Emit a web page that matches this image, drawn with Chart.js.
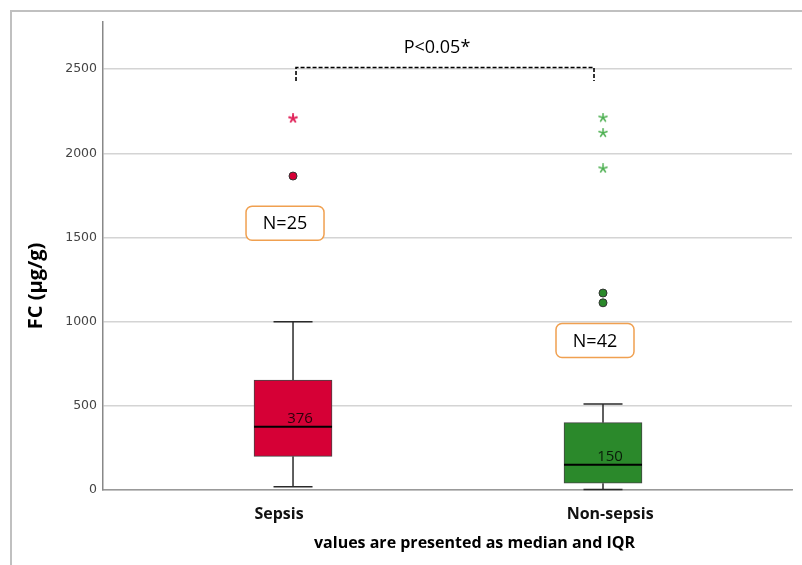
<!DOCTYPE html>
<html><head><meta charset="utf-8">
<script src="https://cdn.jsdelivr.net/npm/chart.js@4"></script>
<style>html,body{margin:0;padding:0;background:#fff;} canvas{display:block;}</style>
</head><body>
<canvas id="c" width="802" height="565"></canvas>
<script>
// ---- data ----
const categories = ['Sepsis', 'Non-sepsis'];
const q1 = [200, 40];
const medians = [376, 150];
const q3 = [653, 400];
const whiskerLow = [20, 3];
const whiskerHigh = [999, 511];
const outlierCircles = [[1865], [1170, 1112]];
const outlierStars = [[2207], [2212, 2122, 1910]];
const sampleSizes = [25, 42];
const yTicks = [0, 500, 1000, 1500, 2000, 2500];
const yAxisTitle = 'FC (μg/g)';
const xAxisTitle = 'values are presented as median and IQR';
const pValueText = 'P<0.05*';
const nBoxValues = [1585, 888];      // vertical anchor of the "N=" labels
const bracketValue = 2510;
const bracketEndValue = 2430;

// ---- style ----
const boxColors = ['#d60036', '#2b892b'];
const starColors = ['#e0245a', '#4caf50'];
const xPos = categories.map((c, i) => i + 1);

function makeStar(color, size, lw) {
  const cv = document.createElement('canvas');
  cv.width = cv.height = size;
  const g = cv.getContext('2d');
  g.strokeStyle = color; g.lineWidth = lw; g.lineCap = 'round';
  const c = size / 2, r = size / 2 - lw / 2;
  for (let k = 0; k < 5; k++) {
    const a = -Math.PI / 2 + k * 2 * Math.PI / 5;
    g.beginPath(); g.moveTo(c, c); g.lineTo(c + r * Math.cos(a), c + r * Math.sin(a)); g.stroke();
  }
  return cv;
}
const starImgs = [makeStar(starColors[0], 10, 2), makeStar(starColors[1], 10, 1.5)];

const datasets = [{
  type: 'bar',
  data: categories.map((c, i) => ({ x: xPos[i], y: [q1[i], q3[i]] })),
  backgroundColor: boxColors,
  borderColor: '#444',
  borderWidth: 1,
  borderSkipped: false,
  barThickness: 78,
  order: 2
}];
categories.forEach((c, i) => {
  datasets.push({
    type: 'scatter',
    data: outlierCircles[i].map(v => ({ x: xPos[i], y: v })),
    pointStyle: 'circle', pointRadius: 4, pointBackgroundColor: boxColors[i],
    pointBorderColor: '#333', pointBorderWidth: 1, order: 1
  });
  datasets.push({
    type: 'scatter',
    data: outlierStars[i].map(v => ({ x: xPos[i], y: v })),
    pointStyle: starImgs[i], pointRadius: 5, order: 1
  });
});

function line(ctx, x1, y1, x2, y2) { ctx.beginPath(); ctx.moveTo(x1, y1); ctx.lineTo(x2, y2); ctx.stroke(); }
function roundRect(ctx, x, y, w, h, r) {
  ctx.beginPath();
  ctx.moveTo(x + r, y); ctx.lineTo(x + w - r, y); ctx.arcTo(x + w, y, x + w, y + r, r);
  ctx.lineTo(x + w, y + h - r); ctx.arcTo(x + w, y + h, x + w - r, y + h, r);
  ctx.lineTo(x + r, y + h); ctx.arcTo(x, y + h, x, y + h - r, r);
  ctx.lineTo(x, y + r); ctx.arcTo(x, y, x + r, y, r); ctx.closePath();
}

const boxPlugin = {
  id: 'boxplot',
  beforeDatasetsDraw(chart) {
    const { ctx, scales: { x, y } } = chart;
    ctx.save();
    ctx.strokeStyle = '#2a2a2a'; ctx.lineWidth = 1.5;
    categories.forEach((c, i) => {
      const cx = x.getPixelForValue(xPos[i]);
      const hi = y.getPixelForValue(whiskerHigh[i]), lo = y.getPixelForValue(whiskerLow[i]);
      line(ctx, cx, y.getPixelForValue(q3[i]), cx, hi);
      line(ctx, cx, y.getPixelForValue(q1[i]), cx, lo);
      line(ctx, cx - 19.5, hi, cx + 19.5, hi);
      line(ctx, cx - 19.5, lo, cx + 19.5, lo);
    });
    ctx.restore();
  },
  afterDatasetsDraw(chart) {
    const { ctx, scales: { x, y } } = chart;
    ctx.save();
    categories.forEach((c, i) => {
      const cx = x.getPixelForValue(xPos[i]);
      const my = y.getPixelForValue(medians[i]);
      ctx.strokeStyle = '#000'; ctx.lineWidth = 2;
      line(ctx, cx - 39, my, cx + 39, my);
      ctx.fillStyle = 'rgba(0,0,0,0.8)';
      ctx.font = '15px "Open Sans"';
      ctx.textAlign = 'center'; ctx.textBaseline = 'alphabetic';
      ctx.fillText(String(medians[i]), cx + 7, my - 4);
      // N label box
      const ny = y.getPixelForValue(nBoxValues[i]);
      const nx = cx - 8;
      ctx.strokeStyle = '#f0a050'; ctx.lineWidth = 1.5; ctx.fillStyle = '#fff';
      roundRect(ctx, nx - 39, ny - 17, 78, 34, 6);
      ctx.fill(); ctx.stroke();
      ctx.fillStyle = '#000'; ctx.font = '18px "Open Sans"';
      ctx.textBaseline = 'middle';
      ctx.fillText('N=' + sampleSizes[i], nx, ny + 1);
    });
    // significance bracket
    const x1 = x.getPixelForValue(xPos[0]) + 3, x2 = x.getPixelForValue(xPos[1]) - 9;
    const by = y.getPixelForValue(bracketValue), be = y.getPixelForValue(bracketEndValue);
    ctx.strokeStyle = '#000'; ctx.lineWidth = 1.6; ctx.setLineDash([4, 2]);
    ctx.beginPath(); ctx.moveTo(x1, be); ctx.lineTo(x1, by); ctx.lineTo(x2, by); ctx.lineTo(x2, be); ctx.stroke();
    ctx.setLineDash([]);
    ctx.fillStyle = '#000'; ctx.font = '18px "Open Sans"'; ctx.textAlign = 'center'; ctx.textBaseline = 'alphabetic';
    ctx.fillText(pValueText, (x1 + x2) / 2 - 8, by - 14);
    ctx.restore();
  },
  afterDraw(chart) {
    const { ctx, chartArea } = chart;
    ctx.save();
    ctx.fillStyle = '#000';
    ctx.font = 'bold 16px "Open Sans"'; ctx.textAlign = 'center'; ctx.textBaseline = 'middle';
    ctx.fillText(xAxisTitle, (chartArea.left + chartArea.right) / 2 + 27, 543);
    ctx.translate(36, 286); ctx.rotate(-Math.PI / 2);
    ctx.font = 'bold 20px "Open Sans"';
    ctx.fillText(yAxisTitle, 0, 0);
    ctx.restore();
    ctx.save();
    ctx.strokeStyle = '#c0c0c0'; ctx.lineWidth = 2;
    ctx.beginPath(); ctx.moveTo(11, 565); ctx.lineTo(11, 11); ctx.lineTo(802, 11); ctx.stroke();
    ctx.restore();
  }
};

Chart.defaults.font.family = '"Open Sans"';
new Chart(document.getElementById('c'), {
  type: 'bar',
  data: { datasets },
  plugins: [boxPlugin],
  options: {
    responsive: false, animation: false, devicePixelRatio: 1,
    layout: { padding: { top: 22, right: 10, left: 0, bottom: 0 } },
    plugins: { legend: { display: false }, tooltip: { enabled: false } },
    scales: {
      x: {
        type: 'linear', min: 0.387, max: 2.6097, offset: false,
        afterFit: s => { s.height = 75; },
        afterBuildTicks: s => { s.ticks = [{ value: xPos[0] - 0.045 }, { value: xPos[1] + 0.023 }]; },
        ticks: { callback: (v, i) => categories[i], font: { size: 16, weight: 'bold' }, color: '#111', padding: 15, maxRotation: 0, autoSkip: false },
        grid: { display: false, drawTicks: false, offset: false },
        border: { display: true, color: '#999', width: 1.5 }
      },
      y: {
        type: 'linear', min: 0, max: 2780,
        afterFit: s => { s.width = 103; },
        afterBuildTicks: s => { s.ticks = yTicks.map(v => ({ value: v })); },
        ticks: { font: { family: '"DejaVu Sans"', size: 12.5 }, color: '#444', padding: 6, callback: v => String(v) },
        grid: { color: '#d4d4d4', lineWidth: 1.5, drawTicks: false },
        border: { display: true, color: '#888', width: 1.5 }
      }
    }
  }
});
</script></body></html>
